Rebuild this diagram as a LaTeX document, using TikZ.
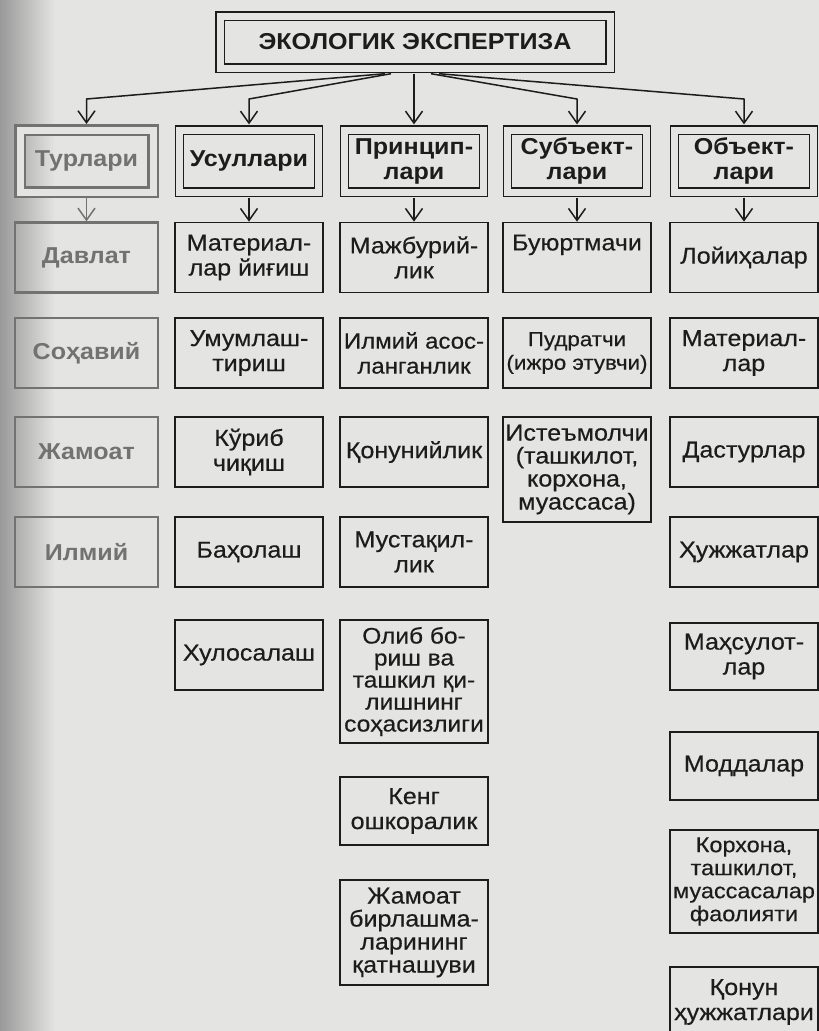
\documentclass[tikz,border=0pt]{standalone}
\usepackage{fontspec}
\setmainfont{Liberation Sans}[FakeStretch=1.09, UprightFeatures={FakeBold=0.4}]
\usetikzlibrary{arrows.meta,calc}
\definecolor{paper}{HTML}{E4E4E2}
\definecolor{ink}{HTML}{1C1C1C}
\definecolor{faded}{HTML}{727272}
\newcommand\bxfont{\fontsize{23}{25}\selectfont}
\newcommand\tightfont{\fontsize{23}{23}\selectfont}
\begin{document}
\begin{tikzpicture}[x=1pt,y=-1pt,
  box/.style={draw=ink, line width=1.6pt, minimum width=148pt, minimum height=70pt,
    inner sep=0pt, align=center, font=\bxfont, text=ink},
  hdr/.style={box, double=paper, double distance=7pt, line width=1.4pt,
    minimum width=139pt, minimum height=62pt, font=\bxfont\bfseries},
  dim/.style={draw=faded, text=faded, line width=2.2pt, font=\bxfont\bfseries},
  link/.style={draw=ink, line width=1.5pt, line join=round},
  arr/.style={link, -{Straight Barb[length=12pt,width=17pt,line width=1.5pt]}},
  dimarr/.style={arr, draw=faded}
]
\useasboundingbox (0,0) rectangle (819,1031);
\clip (0,0) rectangle (819,1031);
\fill[paper] (0,0) rectangle (819,1031);
\shade[left color=black!40, right color=paper] (0,0) rectangle (55,1031);

% title
\node[hdr, minimum width=390pt, minimum height=52pt] (top) at (415,42) {ЭКОЛОГИК ЭКСПЕРТИЗА};

% headers
\node[hdr, dim, double=paper, minimum width=133pt] (h0) at (86.5,161) {Турлари};
\node[hdr] (h1) at (249,161) {Усуллари};
\node[hdr] (h2) at (414,161) {Принцип-\\лари};
\node[hdr] (h3) at (577,161) {Субъект-\\лари};
\node[hdr] (h4) at (744,161) {Объект-\\лари};

% column 0
\node[box, dim, minimum width=143pt] (r1c0) at (86.5,257.5) {Давлат};
\node[box, dim, minimum width=143pt] (r2c0) at (86.5,353) {Соҳавий};
\node[box, dim, minimum width=143pt] (r3c0) at (86.5,452) {Жамоат};
\node[box, dim, minimum width=143pt] (r4c0) at (86.5,552) {Илмий};

% column 1
\node[box] (r1c1) at (249,257.5) {Материал-\\лар йиғиш};
\node[box] (r2c1) at (249,353) {Умумлаш-\\тириш};
\node[box] (r3c1) at (249,452) {Кўриб\\чиқиш};
\node[box] (r4c1) at (249,552) {Баҳолаш};
\node[box] (r5c1) at (249,655) {Хулосалаш};

% column 2
\node[box] (r1c2) at (414,257.5) {Мажбурий-\\лик};
\node[box, font=\fontsize{22}{25}\selectfont] (r2c2) at (414,353) {Илмий асос-\\ланганлик};
\node[box] (r3c2) at (414,452) {Қонунийлик};
\node[box] (r4c2) at (414,552) {Мустақил-\\лик};
\node[box, minimum height=123pt, font=\fontsize{22.5}{22}\selectfont] (r5c2) at (414,681.5) {Олиб бо-\\риш ва\\ташкил қи-\\лишнинг\\соҳасизлиги};
\node[box, minimum height=68pt] (r6c2) at (414,811) {Кенг\\ошкоралик};
\node[box, minimum height=105pt, font=\tightfont] (r7c2) at (414,932.5) {Жамоат\\бирлашма-\\ларининг\\қатнашуви};

% column 3
\node[box, text depth=30pt] (r1c3) at (577,257.5) {Буюртмачи};
\node[box, font=\fontsize{20.5}{23.5}\selectfont] (r2c3) at (577,353) {Пудратчи\\(ижро этувчи)};
\node[box, minimum height=105pt, font=\tightfont] (r3c3) at (577,469.5) {Истеъмолчи\\(ташкилот,\\корхона,\\муассаса)};

% column 4
\node[box] (r1c4) at (744,257.5) {Лойиҳалар};
\node[box] (r2c4) at (744,353) {Материал-\\лар};
\node[box] (r3c4) at (744,452) {Дастурлар};
\node[box] (r4c4) at (744,552) {Ҳужжатлар};
\node[box, minimum height=67pt] (r5c4) at (744,656.5) {Маҳсулот-\\лар};
\node[box, minimum height=68pt] (r6c4) at (744,766) {Моддалар};
\node[box, minimum height=103pt, font=\fontsize{21.5}{23}\selectfont] (r7c4) at (744,881.5) {Корхона,\\ташкилот,\\муассасалар\\фаолияти};
\node[box] (r8c4) at (744,1002) {Қонун\\ҳужжатлари};

% fan from the title
\coordinate (fanY) at (0,99);
\draw[arr, shorten >=4.9pt] ($(top.south)+(-30,5)$) -- (h0.north |- fanY) -- (h0.north);
\draw[arr, shorten >=4.9pt] ($(top.south)+(-24,5)$) -- (h1.north |- fanY) -- (h1.north);
\draw[arr, shorten >=4.9pt] ($(top.south -| h2.north)+(0,5)$) -- (h2.north);
\draw[arr, shorten >=4.9pt] ($(top.south)+(16,5)$) -- (h3.north |- fanY) -- (h3.north);
\draw[arr, shorten >=4.9pt] ($(top.south)+(24,5)$) -- (h4.north |- fanY) -- (h4.north);

% header to first row
\draw[dimarr] ($(h0.south)+(0,5)$) -- (r1c0.north);
\draw[arr] ($(h1.south)+(0,5)$) -- (r1c1.north);
\draw[arr] ($(h2.south)+(0,5)$) -- (r1c2.north);
\draw[arr] ($(h3.south)+(0,5)$) -- (r1c3.north);
\draw[arr] ($(h4.south)+(0,5)$) -- (r1c4.north);
\end{tikzpicture}
\end{document}
